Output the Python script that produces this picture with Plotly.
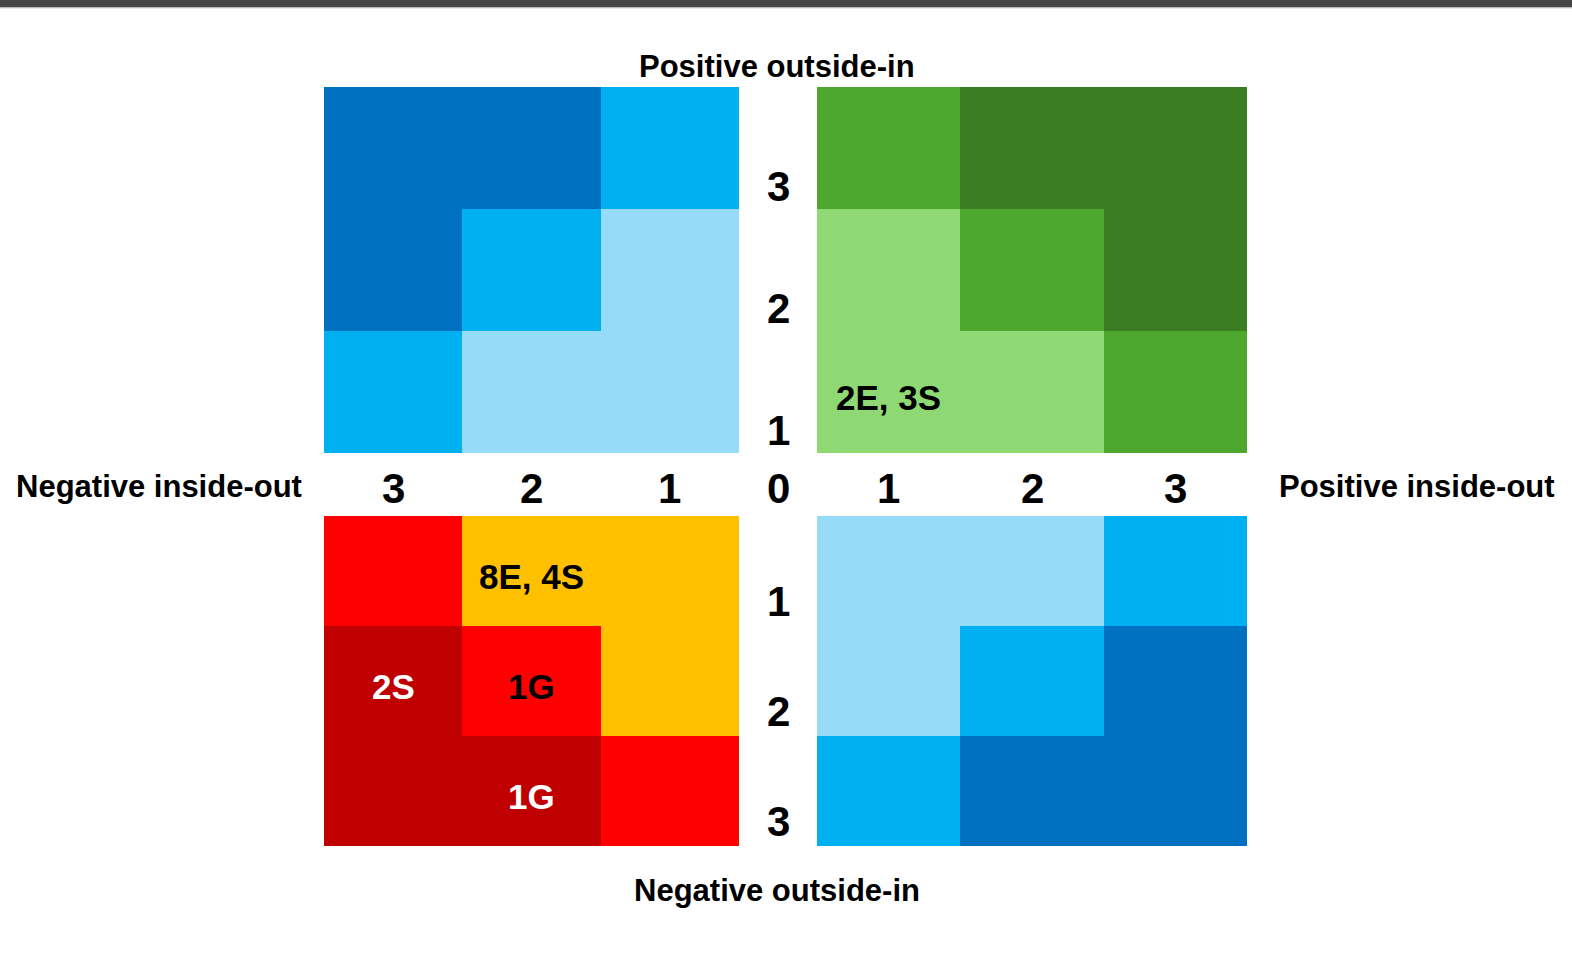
import plotly.graph_objects as go

W, H = 1572, 954

# ---------------- data ----------------
levels = [1, 2, 3]                       # axis categories (inside-out / outside-in)
axis_zero = "0"

# intensity level per cell, rows = outside-in 1..3, cols = inside-out 1..3
top_left_z = [[1, 1, 2], [1, 2, 3], [2, 3, 3]]      # negative inside-out / positive outside-in
top_right_z = [[1, 1, 2], [1, 2, 3], [2, 3, 3]]     # positive inside-out / positive outside-in
bottom_left_z = [[1, 1, 2], [1, 2, 3], [2, 3, 3]]   # negative inside-out / negative outside-in
bottom_right_z = [[1, 1, 2], [1, 2, 3], [2, 3, 3]]  # positive inside-out / negative outside-in

blue_scale = ["#96DCF8", "#00B0F0", "#0070C0"]
green_scale = ["#8ED973", "#4EA72E", "#3B7D23"]
red_scale = ["#FFC000", "#FF0000", "#C00000"]

# cell labels
tr_label_x = [1]
tr_label_y = [1]
tr_label_text = ["2E, 3S"]
tr_label_color = ["black"]

bl_label_x = [2, 3, 2, 2]
bl_label_y = [1, 2, 2, 3]
bl_label_text = ["8E, 4S", "2S", "1G", "1G"]
bl_label_color = ["black", "white", "black", "white"]

title_top = "Positive outside-in"
title_bottom = "Negative outside-in"
title_left = "Negative inside-out"
title_right = "Positive inside-out"

FONT = "Liberation Sans, Arial, sans-serif"


def cs(colors):
    return [[0.0, colors[0]], [0.5, colors[1]], [1.0, colors[2]]]


def px_x(p):
    return p / W


def px_y(p):
    return 1 - p / H


fig = go.Figure()

grids = [
    (top_left_z, blue_scale, "x", "y"),
    (top_right_z, green_scale, "x2", "y2"),
    (bottom_left_z, red_scale, "x3", "y3"),
    (bottom_right_z, blue_scale, "x4", "y4"),
]
for z, scale, xa, ya in grids:
    fig.add_trace(go.Heatmap(
        x=levels, y=levels, z=z, zmin=1, zmax=3,
        colorscale=cs(scale), showscale=False,
        xaxis=xa, yaxis=ya, hoverinfo="skip",
    ))

left_dom = [px_x(324), px_x(739)]
right_dom = [px_x(817), px_x(1247)]
top_dom = [px_y(453), px_y(87)]
bot_dom = [px_y(846), px_y(516)]

ax_common = dict(showgrid=False, zeroline=False, showticklabels=False,
                 showline=False, ticks="", fixedrange=True)

fig.update_layout(
    width=W, height=H,
    margin=dict(l=0, r=0, t=0, b=0),
    paper_bgcolor="white", plot_bgcolor="white",
    showlegend=False,
    xaxis=dict(domain=left_dom, range=[3.5, 0.5], anchor="y", **ax_common),
    yaxis=dict(domain=top_dom, range=[0.5, 3.5], anchor="x", **ax_common),
    xaxis2=dict(domain=right_dom, range=[0.5, 3.5], anchor="y2", **ax_common),
    yaxis2=dict(domain=top_dom, range=[0.5, 3.5], anchor="x2", **ax_common),
    xaxis3=dict(domain=left_dom, range=[3.5, 0.5], anchor="y3", **ax_common),
    yaxis3=dict(domain=bot_dom, range=[3.5, 0.5], anchor="x3", **ax_common),
    xaxis4=dict(domain=right_dom, range=[0.5, 3.5], anchor="y4", **ax_common),
    yaxis4=dict(domain=bot_dom, range=[3.5, 0.5], anchor="x4", **ax_common),
)

# top dark bar
fig.add_shape(type="rect", xref="paper", yref="paper", x0=0, x1=1,
              y0=px_y(7.5), y1=1, fillcolor="#454545", line_width=0, layer="above")
fig.add_shape(type="line", xref="paper", yref="paper", x0=0, x1=1,
              y0=px_y(8), y1=px_y(8), line=dict(color="#D0D0D0", width=1))

annots = []
title_font = dict(family=FONT, size=31, color="black", weight="bold")
digit_font = dict(family=FONT, size=42, color="black", weight="bold")

# cell labels
for xs, ys, ts, cols, xa, ya in [
    (tr_label_x, tr_label_y, tr_label_text, tr_label_color, "x2", "y2"),
    (bl_label_x, bl_label_y, bl_label_text, bl_label_color, "x3", "y3"),
]:
    for xv, yv, t, c in zip(xs, ys, ts, cols):
        annots.append(dict(text=t, xref=xa, yref=ya, x=xv, y=yv, yshift=-5,
                           xanchor="center", yanchor="middle", showarrow=False,
                           font=dict(family=FONT, size=35, color=c, weight="bold")))

for txt, x, y in [(title_top, 777, 67), (title_bottom, 777, 890),
                  (title_left, 158.5, 486), (title_right, 1417, 486)]:
    annots.append(dict(text=txt, xref="paper", yref="paper", x=px_x(x), y=px_y(y),
                       xanchor="center", yanchor="middle", showarrow=False, font=title_font))

# horizontal axis labels
for v in levels:
    annots.append(dict(text=str(v), xref="x", yref="paper", x=v, y=px_y(488),
                       xanchor="center", yanchor="middle", showarrow=False, font=digit_font))
    annots.append(dict(text=str(v), xref="x2", yref="paper", x=v, y=px_y(488),
                       xanchor="center", yanchor="middle", showarrow=False, font=digit_font))
annots.append(dict(text=axis_zero, xref="paper", yref="paper", x=px_x(778), y=px_y(488),
                   xanchor="center", yanchor="middle", showarrow=False, font=digit_font))

# vertical axis labels
for v in levels:
    annots.append(dict(text=str(v), xref="paper", yref="y", x=px_x(778), y=v, yshift=-38,
                       xanchor="center", yanchor="middle", showarrow=False, font=digit_font))
    annots.append(dict(text=str(v), xref="paper", yref="y3", x=px_x(778), y=v, yshift=-30,
                       xanchor="center", yanchor="middle", showarrow=False, font=digit_font))

fig.update_layout(annotations=annots)

fig.write_html("out.html", config={"displayModeBar": False},
               post_script="document.body.style.margin='0';document.body.style.overflow='hidden';")
